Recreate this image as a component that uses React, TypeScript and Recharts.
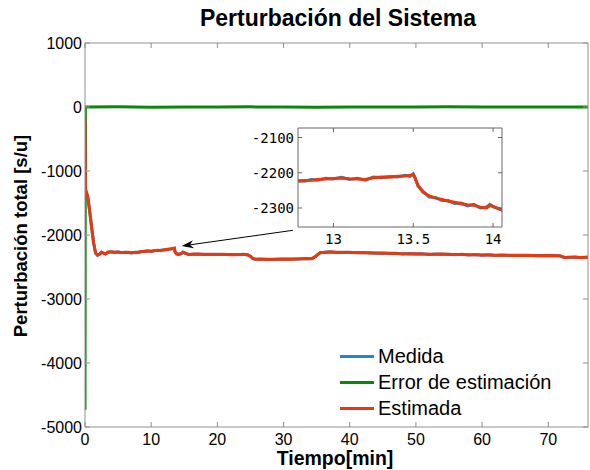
import React from 'react';
import { LineChart, Line, XAxis, YAxis, ReferenceLine } from 'recharts';

// ---------- Main chart data ----------
const time = [0, 0.08, 0.25, 0.45, 0.7, 1.0, 1.3, 1.6, 1.9, 2.2, 2.5, 2.8, 3.1, 3.5, 4.0, 4.5, 5.0, 5.5, 6.0, 6.5, 7.0, 7.5, 8.0, 8.5, 9.0, 9.5, 10, 10.5, 11, 11.5, 12, 12.5, 13.0, 13.3, 13.5, 13.6, 13.8, 14.1, 14.5, 14.8, 15.2, 15.6, 16, 16.5, 17, 18, 19, 20, 21, 22, 23, 24, 24.6, 25.0, 25.4, 25.8, 26.5, 27.5, 28.5, 29.5, 30.5, 31.5, 32.5, 33.5, 34.3, 34.8, 35.2, 35.6, 36.2, 37, 38, 39, 40, 41, 42, 43, 44, 45, 46, 47, 48, 49, 50, 51, 52, 53, 54, 55, 56, 57, 58, 59, 60, 61, 62, 63, 64, 65, 66, 67, 68, 69, 70, 71, 71.8, 72.4, 73, 74, 75, 76];

const estimada = [-200, -1300, -1340, -1420, -1620, -1880, -2120, -2280, -2315, -2300, -2268, -2285, -2295, -2270, -2262, -2270, -2268, -2272, -2275, -2270, -2278, -2275, -2268, -2262, -2255, -2250, -2252, -2246, -2240, -2242, -2232, -2225, -2217, -2212, -2205, -2262, -2290, -2305, -2290, -2272, -2285, -2305, -2300, -2302, -2298, -2303, -2300, -2306, -2302, -2308, -2304, -2306, -2310, -2335, -2368, -2380, -2376, -2382, -2378, -2380, -2375, -2378, -2372, -2370, -2366, -2340, -2300, -2278, -2268, -2265, -2268, -2272, -2270, -2276, -2274, -2280, -2282, -2286, -2284, -2290, -2292, -2295, -2293, -2298, -2300, -2302, -2298, -2303, -2306, -2304, -2308, -2310, -2314, -2312, -2316, -2318, -2315, -2320, -2318, -2322, -2320, -2324, -2322, -2326, -2324, -2352, -2348, -2346, -2350, -2348];

const medida = [-180, -1290, -1345, -1430, -1630, -1875, -2125, -2285, -2318, -2296, -2272, -2282, -2298, -2266, -2266, -2274, -2264, -2276, -2271, -2274, -2281, -2271, -2272, -2258, -2259, -2246, -2256, -2243, -2244, -2238, -2236, -2222, -2220, -2209, -2207, -2258, -2294, -2301, -2294, -2268, -2289, -2301, -2304, -2298, -2302, -2299, -2304, -2302, -2306, -2304, -2308, -2302, -2314, -2331, -2372, -2376, -2380, -2378, -2382, -2376, -2379, -2374, -2376, -2366, -2370, -2336, -2304, -2274, -2272, -2261, -2272, -2268, -2274, -2272, -2278, -2276, -2286, -2282, -2288, -2286, -2296, -2291, -2297, -2294, -2304, -2298, -2302, -2299, -2310, -2300, -2312, -2306, -2318, -2308, -2320, -2314, -2319, -2316, -2322, -2318, -2324, -2320, -2326, -2322, -2328, -2348, -2352, -2342, -2354, -2344];

const errorTime = [0, 0.05, 5, 10, 15, 20, 25, 30, 35, 40, 45, 50, 55, 60, 65, 70, 76];
const errorValues = [-4730, 0, 2, -2, 1, -1, 2, 0, -2, 1, 0, -1, 2, 0, 1, -1, 0];

const xTicks = [0, 10, 20, 30, 40, 50, 60, 70];
const yTicks = [-5000, -4000, -3000, -2000, -1000, 0, 1000];

// ---------- Inset data ----------
const insetTime = [12.78, 12.82, 12.86, 12.9, 12.95, 13.0, 13.05, 13.1, 13.15, 13.2, 13.25, 13.3, 13.35, 13.4, 13.45, 13.48, 13.5, 13.51, 13.53, 13.56, 13.6, 13.64, 13.68, 13.72, 13.76, 13.8, 13.84, 13.88, 13.92, 13.96, 13.98, 14.01, 14.04, 14.06];
const insetEstimada = [-2224, -2222, -2221, -2219, -2218, -2216, -2215, -2217, -2218, -2219, -2214, -2212, -2213, -2210, -2209, -2208, -2205, -2214, -2236, -2255, -2266, -2272, -2276, -2281, -2284, -2288, -2291, -2292, -2298, -2300, -2293, -2297, -2304, -2305];
const insetMedida = [-2222, -2224, -2219, -2221, -2216, -2218, -2213, -2219, -2216, -2221, -2212, -2214, -2211, -2212, -2207, -2210, -2203, -2212, -2238, -2252, -2269, -2270, -2279, -2279, -2287, -2286, -2294, -2290, -2300, -2297, -2290, -2299, -2301, -2307];
const insetXTicks = [13, 13.5, 14];
const insetYTicks = [-2300, -2200, -2100];

// annotation arrow endpoints (data coordinates of main chart)
const arrowFrom = { x: 31.4, y: -1927 };
const arrowTo = { x: 14.6, y: -2172 };

const seriesNames = ['Medida', 'Error de estimación', 'Estimada'];
const seriesColors = ['#1f86cf', '#0b870b', '#e8380d'];

const mainData = time.map((t, i) => ({ t, medida: medida[i], estimada: estimada[i] }));
const errorData = errorTime.map((t, i) => ({ t, error: errorValues[i] }));
const insetData = insetTime.map((t, i) => ({ t, medida: insetMedida[i], estimada: insetEstimada[i] }));

const FRAME = '#8f8f8f';
const INSET_FRAME = '#666666';
const SANS = '"Liberation Sans", Arial, sans-serif';
const MONO = '"DejaVu Sans Mono", monospace';

const BottomTick = (p: any) => (
  <g>
    <line x1={p.x} y1={p.y} x2={p.x} y2={p.y - 5} stroke={FRAME} />
    <text x={p.x} y={p.y + 18} textAnchor="middle" fontSize={16} fontFamily={SANS} fill="#000">{p.payload.value}</text>
  </g>
);
const TopTick = (p: any) => <line x1={p.x} y1={p.y} x2={p.x} y2={p.y + 5} stroke={FRAME} />;
const LeftTick = (p: any) => (
  <g>
    <line x1={p.x} y1={p.y} x2={p.x + 5} y2={p.y} stroke={FRAME} />
    <text x={p.x - 3} y={p.y} dy="0.36em" textAnchor="end" fontSize={16} fontFamily={SANS} fill="#000">{p.payload.value}</text>
  </g>
);
const RightTick = (p: any) => <line x1={p.x} y1={p.y} x2={p.x - 5} y2={p.y} stroke={FRAME} />;

const InBottomTick = (p: any) => (
  <g>
    <line x1={p.x} y1={p.y} x2={p.x} y2={p.y - 4} stroke={INSET_FRAME} />
    <text x={p.x} y={p.y + 17} textAnchor="middle" fontSize={14} fontFamily={MONO} fill="#000">{p.payload.value}</text>
  </g>
);
const InTopTick = (p: any) => <line x1={p.x} y1={p.y} x2={p.x} y2={p.y + 4} stroke={INSET_FRAME} />;
const InLeftTick = (p: any) => (
  <g>
    <line x1={p.x} y1={p.y} x2={p.x + 4} y2={p.y} stroke={INSET_FRAME} />
    <text x={p.x - 4} y={p.y} dy="0.36em" textAnchor="end" fontSize={14} fontFamily={MONO} fill="#000">{p.payload.value}</text>
  </g>
);
const InRightTick = (p: any) => <line x1={p.x} y1={p.y} x2={p.x - 4} y2={p.y} stroke={INSET_FRAME} />;

const ArrowShape = (props: any) => {
  const { x1, y1, x2, y2 } = props;
  const ang = Math.atan2(y2 - y1, x2 - x1);
  const L = 12;
  const W = 4;
  const bx = x2 - L * Math.cos(ang);
  const by = y2 - L * Math.sin(ang);
  const nx = x2 - (L * 0.7) * Math.cos(ang);
  const ny = y2 - (L * 0.7) * Math.sin(ang);
  const px = -Math.sin(ang) * W;
  const py = Math.cos(ang) * W;
  return (
    <g>
      <line x1={x1} y1={y1} x2={nx} y2={ny} stroke="#000" strokeWidth={1} />
      <polygon points={`${x2},${y2} ${bx + px},${by + py} ${nx},${ny} ${bx - px},${by - py}`} fill="#000" />
    </g>
  );
};

const LegendBox = () => (
  <div style={{ position: 'absolute', left: 340, top: 343, fontFamily: SANS, fontSize: 20, color: '#000' }}>
    {seriesNames.map((name, i) => (
      <div key={name} style={{ display: 'flex', alignItems: 'center', height: 26, whiteSpace: 'nowrap' }}>
        <div style={{ width: 34, height: 3, background: seriesColors[i], marginRight: 4 }} />
        <span>{name}</span>
      </div>
    ))}
  </div>
);

export default function App() {
  return (
    <div style={{ position: 'absolute', left: 0, top: 0, width: 590, height: 470, background: '#fff' }}>
      <div style={{ position: 'absolute', left: 0, top: 4, width: 676, textAlign: 'center', fontFamily: SANS, fontWeight: 'bold', fontSize: 23, lineHeight: '28px' }}>
        Perturbación del Sistema
      </div>
      <div style={{ position: 'absolute', left: 0, top: 446, width: 670, textAlign: 'center', fontFamily: SANS, fontWeight: 'bold', fontSize: 19.5, lineHeight: '24px' }}>
        Tiempo[min]
      </div>
      <div style={{ position: 'absolute', left: 21, top: 236, width: 0, height: 0 }}>
        <div style={{ position: 'absolute', left: -150, top: -11, width: 300, textAlign: 'center', transform: 'rotate(-90deg)', fontFamily: SANS, fontWeight: 'bold', fontSize: 18.5, lineHeight: '22px' }}>
          Perturbación total [s/u]
        </div>
      </div>
      <div style={{ position: 'absolute', left: 0, top: 0 }}>
        <LineChart width={590} height={470} data={mainData} margin={{ top: 42, right: 1, bottom: 0, left: 0 }}>
          <XAxis xAxisId="b" dataKey="t" type="number" domain={[0, 76]} ticks={xTicks} orientation="bottom" height={43} tickSize={0} tickMargin={0} tickLine={false} axisLine={{ stroke: FRAME }} tick={BottomTick} allowDataOverflow />
          <XAxis xAxisId="t" dataKey="t" type="number" domain={[0, 76]} ticks={xTicks} orientation="top" height={1} tickSize={0} tickMargin={0} tickLine={false} axisLine={{ stroke: FRAME }} tick={TopTick} allowDataOverflow />
          <YAxis yAxisId="l" type="number" domain={[-5000, 1000]} ticks={yTicks} orientation="left" width={85} tickSize={0} tickMargin={0} tickLine={false} axisLine={{ stroke: FRAME }} tick={LeftTick} allowDataOverflow />
          <YAxis yAxisId="r" type="number" domain={[-5000, 1000]} ticks={yTicks} orientation="right" width={1} tickSize={0} tickMargin={0} tickLine={false} axisLine={{ stroke: FRAME }} tick={RightTick} allowDataOverflow />
          <Line xAxisId="b" yAxisId="l" name={seriesNames[0]} dataKey="medida" stroke={seriesColors[0]} strokeWidth={3} dot={false} isAnimationActive={false} />
          <Line xAxisId="b" yAxisId="l" name={seriesNames[1]} data={errorData} dataKey="error" stroke={seriesColors[1]} strokeWidth={3} dot={false} isAnimationActive={false} />
          <Line xAxisId="b" yAxisId="l" name={seriesNames[2]} dataKey="estimada" stroke={seriesColors[2]} strokeWidth={3} dot={false} isAnimationActive={false} />
          <ReferenceLine xAxisId="b" yAxisId="l" segment={[arrowFrom, arrowTo]} shape={ArrowShape} ifOverflow="visible" />
        </LineChart>
      </div>
      <LegendBox />
      <div style={{ position: 'absolute', left: 240, top: 124, width: 266, height: 125 }}>
        <LineChart width={266} height={125} data={insetData} margin={{ top: 3, right: 3, bottom: 0, left: 0 }}>
          <XAxis xAxisId="b" dataKey="t" type="number" domain={[12.778, 14.056]} ticks={insetXTicks} orientation="bottom" height={22} tickSize={0} tickMargin={0} tickLine={false} axisLine={{ stroke: INSET_FRAME }} tick={InBottomTick} allowDataOverflow />
          <XAxis xAxisId="t" dataKey="t" type="number" domain={[12.778, 14.056]} ticks={insetXTicks} orientation="top" height={1} tickSize={0} tickMargin={0} tickLine={false} axisLine={{ stroke: INSET_FRAME }} tick={InTopTick} allowDataOverflow />
          <YAxis yAxisId="l" type="number" domain={[-2354, -2073]} ticks={insetYTicks} orientation="left" width={58} tickSize={0} tickMargin={0} tickLine={false} axisLine={{ stroke: INSET_FRAME }} tick={InLeftTick} allowDataOverflow />
          <YAxis yAxisId="r" type="number" domain={[-2354, -2073]} ticks={insetYTicks} orientation="right" width={1} tickSize={0} tickMargin={0} tickLine={false} axisLine={{ stroke: INSET_FRAME }} tick={InRightTick} allowDataOverflow />
          <Line xAxisId="b" yAxisId="l" dataKey="medida" stroke={seriesColors[0]} strokeWidth={3} dot={false} isAnimationActive={false} />
          <Line xAxisId="b" yAxisId="l" dataKey="estimada" stroke={seriesColors[2]} strokeWidth={3} dot={false} isAnimationActive={false} />
        </LineChart>
      </div>
    </div>
  );
}
